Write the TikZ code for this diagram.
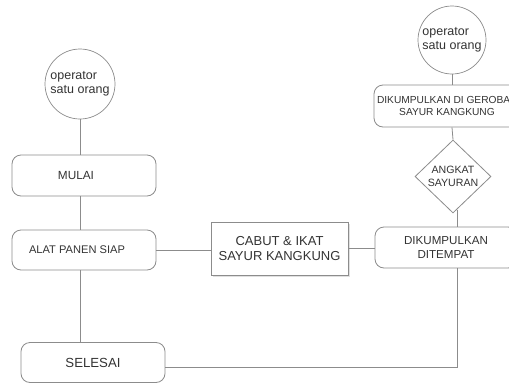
\documentclass[tikz,border=0pt]{standalone}
\usepackage{fontspec}
\setmainfont{Liberation Sans}
\usetikzlibrary{shapes.geometric}
\definecolor{linegray}{HTML}{8C8C8C}
\definecolor{txtgray}{HTML}{333333}
\tikzset{
  conn/.style={draw=linegray, line width=0.8pt},
  rbox/.style={draw=linegray, line width=0.8pt, rounded corners=9pt, text=txtgray, inner sep=0pt},
  sbox/.style={draw=linegray, line width=0.8pt, text=txtgray, inner sep=0pt, fill=white},
  opcirc/.style={draw=linegray, line width=0.7pt, circle, text=txtgray, inner sep=0pt, align=left,
    font=\fontsize{12.5}{14}\selectfont},
  dia/.style={draw=linegray, line width=0.8pt, diamond, text=txtgray, inner sep=0pt, align=center,
    font=\fontsize{10.6}{12.5}\selectfont},
}
\begin{document}
\begin{tikzpicture}[x=1pt,y=-1pt]
\useasboundingbox (0,0) rectangle (509,383);
\clip (0,0) rectangle (509,383);
\fill[white] (0,0) rectangle (509,383);
% left column
\node[opcirc, minimum size=70pt] (c1) at (80,84) {operator\\satu orang};
\node[rbox, minimum width=144pt, minimum height=41pt,
  label={[xshift=-8pt, text=txtgray, font=\fontsize{11.8}{13}\selectfont]center:MULAI}] (mulai) at (84,175.5) {};
\node[rbox, minimum width=144pt, minimum height=40pt,
  label={[xshift=-7pt, text=txtgray, font=\fontsize{11.1}{13}\selectfont]center:ALAT PANEN SIAP}] (alat) at (84,250) {};
\node[rbox, minimum width=144pt, minimum height=40pt, font=\fontsize{13.2}{15}\selectfont] (selesai) at (93,362.5) {SELESAI};
% middle
\fill[black!12] (213,224) rectangle (350,277);
\node[sbox, minimum width=137pt, minimum height=53pt, align=center, font=\fontsize{13}{15}\selectfont] (cabut) at (279.5,248.5) {CABUT \& IKAT\\SAYUR KANGKUNG};
% right column
\node[opcirc, minimum size=68pt] (c2) at (452,40) {operator\\satu orang};
\node[rbox, minimum width=146pt, minimum height=42pt, align=center, font=\fontsize{10.2}{12.5}\selectfont] (gerobak) at (447,106) {DIKUMPULKAN DI GEROBAK\\SAYUR KANGKUNG};
\node[dia, minimum width=76pt, minimum height=73pt] (angkat) at (453,176.5) {};
\node[text=txtgray, align=center, font=\fontsize{10.6}{12.5}\selectfont] at (angkat.center) {ANGKAT\\SAYURAN};
\node[rbox, minimum width=142pt, minimum height=41pt, align=center, font=\fontsize{11.6}{14}\selectfont] (tempat) at (446,247.5) {DIKUMPULKAN\\DITEMPAT};
\coordinate (corner) at (457,367);
% connectors
\draw[conn] (c1.south) -- (c1.south |- mulai.north);
\draw[conn] (c1.south |- mulai.south) -- (c1.south |- alat.north);
\draw[conn] (c1.south |- alat.south) -- (c1.south |- selesai.north);
\draw[conn] (alat.east) -- (alat.east -| cabut.west);
\draw[conn] (cabut.east) -- (cabut.east -| tempat.west);
\draw[conn] (c2.south) -- (c2.south |- gerobak.north);
\draw[conn] (c2.south |- gerobak.south) -- (angkat.north);
\draw[conn] (corner |- angkat.south) ++(0,-3) -- (corner |- tempat.north);
\draw[conn] (corner |- tempat.south) -- (corner) -- (corner -| selesai.east);
\end{tikzpicture}
\end{document}
